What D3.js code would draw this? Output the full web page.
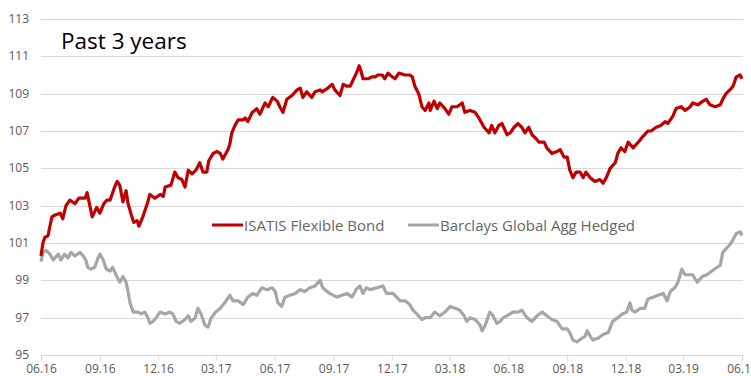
<!DOCTYPE html>
<html lang="en">
<head>
<meta charset="utf-8">
<title>Past 3 years</title>
<script src="https://d3js.org/d3.v7.min.js"></script>
<style>
  body { margin: 0; background: #fff; }
  svg { display: block; }
</style>
</head>
<body>
<script>
// day offsets from 01.06.2016 and index levels
var isatisDays = [0,3,6,11,17,22,30,34,39,45,53,59,69,72,80,87,92,98,103,108,115,119,123,128,133,136,142,145,150,153,159,166,170,178,186,191,194,203,209,214,220,225,230,236,242,248,253,259,262,269,275,280,284,292,295,298,303,308,316,319,323,330,334,337,342,350,355,362,369,373,378,384,392,400,405,409,415,423,428,436,439,448,455,459,467,472,478,483,487,494,497,500,503,511,517,522,526,533,537,542,545,553,559,569,576,580,584,590,595,600,606,608,614,619,623,631,637,642,650,658,662,670,678,684,692,700,704,709,715,720,728,733,739,745,751,756,762,767,773,778,786,790,798,806,811,817,822,826,831,836,842,847,851,858,865,873,878,883,889,897,901,906,912,917,925,933,940,948,953,961,968,975,979,987,992,1000,1006,1014,1018,1026,1034,1039,1045,1053,1061,1065,1070,1076,1081,1086,1092,1095];
var isatis = [100.3,101.0,101.3,101.4,102.4,102.5,102.6,102.3,103.0,103.3,103.1,103.4,103.4,103.7,102.4,102.9,102.6,103.1,103.3,103.3,104.0,104.3,104.1,103.2,103.8,103.1,102.4,102.1,102.2,101.9,102.4,103.1,103.6,103.4,103.6,103.5,104.0,104.1,104.8,104.5,104.4,104.0,104.9,104.7,104.9,105.3,104.8,104.8,105.4,105.8,105.9,105.8,105.5,106.0,106.3,106.9,107.3,107.6,107.6,107.7,107.5,108.0,108.1,108.2,107.9,108.5,108.3,108.8,108.6,108.3,108.0,108.7,108.9,109.2,109.3,108.8,109.1,108.8,109.1,109.2,109.1,109.3,109.5,109.2,108.9,109.5,109.4,109.4,109.7,110.2,110.5,110.2,109.8,109.8,109.9,109.9,110.0,110.0,109.8,110.1,110.0,109.8,110.1,110.0,110.0,109.9,109.4,109.0,108.3,108.1,108.5,108.1,108.6,108.2,108.5,108.2,107.9,108.3,108.3,108.5,108.0,108.1,108.0,107.7,107.2,106.9,107.3,106.9,107.3,107.4,106.8,106.9,107.2,107.4,107.2,106.9,107.2,106.8,106.6,106.4,106.4,106.1,105.8,105.9,106.0,105.6,105.6,104.9,104.5,104.8,104.8,104.5,104.8,104.5,104.3,104.4,104.2,104.5,105.0,105.3,105.8,106.1,105.9,106.4,106.1,106.4,106.7,107.0,107.0,107.2,107.3,107.5,107.4,107.8,108.2,108.3,108.1,108.3,108.5,108.4,108.6,108.7,108.4,108.3,108.4,108.7,109.0,109.2,109.4,109.9,110.0,109.8];

var barclaysDays = [0,3,8,14,19,27,31,37,42,47,53,61,66,70,73,78,84,89,92,97,102,108,112,117,123,128,133,136,139,144,152,156,162,167,170,175,180,186,194,201,206,211,217,225,230,234,241,245,250,256,261,266,273,280,287,295,300,308,316,323,331,337,345,353,361,366,370,376,381,389,397,405,412,420,428,436,440,447,451,462,470,478,486,492,498,503,508,514,525,534,540,550,561,569,576,581,587,595,600,608,615,623,631,639,647,654,661,665,670,678,686,689,694,698,701,706,712,717,722,728,737,745,751,759,767,775,783,790,798,806,814,822,826,831,837,845,850,853,858,862,870,878,886,893,901,908,915,920,923,928,936,943,948,956,964,972,978,983,990,995,1001,1006,1014,1018,1025,1033,1040,1048,1056,1061,1065,1073,1078,1086,1092,1095];
var barclays = [100.0,100.5,100.6,100.4,100.1,100.4,100.1,100.4,100.2,100.5,100.3,100.5,100.3,100.1,99.7,99.6,99.7,100.2,100.4,100.1,99.6,99.5,99.7,99.3,98.9,99.2,98.9,98.4,97.8,97.3,97.3,97.2,97.3,97.0,96.7,96.8,97.0,97.3,97.2,97.3,97.2,96.8,96.7,96.9,97.1,96.8,97.0,97.5,97.2,96.6,96.5,97.0,97.3,97.5,97.8,98.2,97.9,97.9,97.7,98.1,98.3,98.2,98.6,98.5,98.6,98.4,97.8,97.6,98.1,98.2,98.3,98.5,98.4,98.6,98.7,99.0,98.6,98.4,98.3,98.1,98.2,98.3,98.1,98.5,98.7,98.3,98.6,98.5,98.6,98.7,98.3,98.3,97.9,97.9,97.7,97.4,97.2,96.9,97.0,97.0,97.3,97.1,97.3,97.6,97.5,97.4,97.1,96.8,97.0,96.9,96.6,96.3,96.6,97.0,97.3,97.1,96.7,96.8,97.0,97.1,97.3,97.3,97.4,97.0,96.8,97.1,97.3,97.1,96.9,96.8,96.4,96.4,96.2,95.8,95.7,95.9,96.0,96.3,96.0,95.8,95.9,96.1,96.2,96.8,97.0,97.2,97.3,97.8,97.4,97.3,97.5,97.5,98.0,98.1,98.2,98.3,97.9,98.4,98.6,98.9,99.6,99.3,99.3,99.3,98.9,99.2,99.3,99.5,99.7,99.8,100.5,100.8,101.0,101.5,101.6,101.4];

var yTicks = [95, 97, 99, 101, 103, 105, 107, 109, 111, 113];
var seriesNames = ["ISATIS Flexible Bond", "Barclays Global Agg Hedged"];
var seriesColors = ["#c00000", "#a6a6a6"];

var w = 751, h = 376;
var mLeft = 41, mRight = 742, mTop = 19, mBottom = 355;
var start = new Date(2016, 5, 1), end = new Date(2019, 5, 1);

var svg = d3.select("body").append("svg")
    .attr("width", w)
    .attr("height", h);

var x = d3.scaleTime().domain([start, end]).range([mLeft, mRight]);
var y = d3.scaleLinear().domain([95, 113]).range([mBottom, mTop]);

// horizontal grid
svg.append("g").selectAll("line").data(yTicks.slice(1))
    .enter().append("line")
    .attr("x1", mLeft).attr("x2", mRight + 1)
    .attr("y1", function (d) { return Math.round(y(d)) + 0.5; })
    .attr("y2", function (d) { return Math.round(y(d)) + 0.5; })
    .attr("stroke", "#d9d9d9")
    .attr("stroke-width", 1);

// y labels
svg.append("g").selectAll("text").data(yTicks)
    .enter().append("text")
    .attr("x", 29)
    .attr("y", function (d) { return y(d) + 4; })
    .attr("text-anchor", "end")
    .attr("font-family", "'Open Sans', sans-serif")
    .attr("font-size", "12px")
    .attr("fill", "#595959")
    .text(function (d) { return d; });

// x axis, quarterly ticks
var xAxis = d3.axisBottom(x)
    .tickValues(d3.timeMonth.range(start, d3.timeDay.offset(end, 1), 3))
    .tickFormat(d3.timeFormat("%m.%y"))
    .tickSize(5)
    .tickPadding(4);

var gx = svg.append("g")
    .attr("transform", "translate(0," + (Math.round(mBottom) + 0.5) + ")")
    .call(xAxis);
gx.select(".domain").attr("stroke", "#d9d9d9").attr("d", "M" + mLeft + ",0H" + (mRight + 1));
gx.selectAll(".tick line").attr("stroke", "#d9d9d9");
gx.selectAll(".tick text")
    .attr("font-family", "'Open Sans', sans-serif")
    .attr("font-size", "12px")
    .attr("fill", "#595959");

// lines
function pts(days, vals) {
    return days.map(function (d, i) {
        return [d3.timeDay.offset(start, d), vals[i]];
    });
}
var line = d3.line()
    .x(function (d) { return x(d[0]); })
    .y(function (d) { return y(d[1]); });

svg.append("path")
    .attr("d", line(pts(barclaysDays, barclays)))
    .attr("fill", "none")
    .attr("stroke", seriesColors[1])
    .attr("stroke-width", 3.2)
    .attr("stroke-linejoin", "round");

svg.append("path")
    .attr("d", line(pts(isatisDays, isatis)))
    .attr("fill", "none")
    .attr("stroke", seriesColors[0])
    .attr("stroke-width", 3.2)
    .attr("stroke-linejoin", "round");

// title
svg.append("text")
    .attr("x", 61)
    .attr("y", 49)
    .attr("font-family", "'Open Sans', sans-serif")
    .attr("font-size", "22.5px")
    .attr("fill", "#000")
    .text("Past 3 years");

// legend
var legendX = [212, 408];
var lg = svg.append("g").selectAll("g").data(seriesNames)
    .enter().append("g")
    .attr("transform", function (d, i) { return "translate(" + legendX[i] + ",225)"; });
lg.append("line")
    .attr("x1", 0).attr("x2", 31)
    .attr("stroke", function (d, i) { return seriesColors[i]; })
    .attr("stroke-width", 3);
lg.append("text")
    .attr("x", 32)
    .attr("y", 5.5)
    .attr("font-family", "'Open Sans', sans-serif")
    .attr("font-size", "15px")
    .attr("fill", "#666")
    .text(function (d) { return d; });
</script>
</body>
</html>
